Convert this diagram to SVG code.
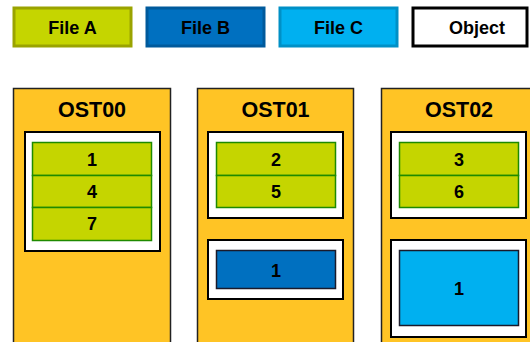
<svg xmlns="http://www.w3.org/2000/svg" width="530" height="342" viewBox="0 0 530 342">
<style>
text{font-family:"Liberation Sans",Arial,sans-serif;font-weight:bold;fill:#000;text-anchor:middle}
.leg{font-size:18px}
.title{font-size:21.5px}
.num{font-size:18px}
.ost{fill:#FFC425;stroke:#222;stroke-width:1.5}
.obj{fill:#fff;stroke:#000;stroke-width:2}
.fa{fill:#C5D500;stroke:#1E8A00;stroke-width:1.5}
.fb{fill:#0070C0;stroke:#1A1A2A;stroke-width:1.5}
.fc{fill:#00B0F0;stroke:#1A1A2A;stroke-width:1.5}
</style>
<g id="legend">
<g id="legend-a"><rect x="14" y="8" width="117" height="38" fill="#C5D500" stroke="#9AA300" stroke-width="3"/><text class="leg" x="72.5" y="34">File A</text></g>
<g id="legend-b"><rect x="147" y="8" width="117" height="38" fill="#0070C0" stroke="#005A9C" stroke-width="3"/><text class="leg" x="205.5" y="34">File B</text></g>
<g id="legend-c"><rect x="280" y="8" width="117" height="38" fill="#00B0F0" stroke="#0090C6" stroke-width="3"/><text class="leg" x="338.5" y="34">File C</text></g>
<g id="legend-obj"><rect x="413" y="8" width="114" height="38" fill="#fff" stroke="#000" stroke-width="3"/><text class="leg" x="477" y="34">Object</text></g>
</g>
<g id="ost00">
<rect class="ost" x="13.5" y="88.5" width="157" height="262"/>
<text class="title" x="92" y="116.5">OST00</text>
<rect class="obj" x="25" y="132" width="135" height="119"/>
<rect class="fa" x="32.5" y="142.5" width="119" height="33"/><text class="num" x="92" y="166">1</text>
<rect class="fa" x="32.5" y="175.5" width="119" height="32"/><text class="num" x="92" y="197.5">4</text>
<rect class="fa" x="32.5" y="207.5" width="119" height="33"/><text class="num" x="92" y="230">7</text>
</g>
<g id="ost01">
<rect class="ost" x="197.5" y="88.5" width="156" height="262"/>
<text class="title" x="275.5" y="116.5">OST01</text>
<rect class="obj" x="208" y="132" width="135" height="86"/>
<rect class="fa" x="216.5" y="142.5" width="119" height="33"/><text class="num" x="276" y="166">2</text>
<rect class="fa" x="216.5" y="175.5" width="119" height="32"/><text class="num" x="276" y="197.5">5</text>
<rect class="obj" x="208" y="240" width="135" height="59"/>
<rect class="fb" x="216.5" y="250.5" width="119" height="38"/><text class="num" x="276" y="277">1</text>
</g>
<g id="ost02">
<rect class="ost" x="381.5" y="88.5" width="160" height="262"/>
<text class="title" x="459" y="116.5">OST02</text>
<rect class="obj" x="391" y="132" width="135" height="86"/>
<rect class="fa" x="399.5" y="142.5" width="119" height="33"/><text class="num" x="459" y="166">3</text>
<rect class="fa" x="399.5" y="175.5" width="119" height="32"/><text class="num" x="459" y="197.5">6</text>
<rect class="obj" x="391" y="240" width="135" height="97"/>
<rect class="fc" x="399.5" y="250.5" width="119" height="75"/><text class="num" x="459" y="295">1</text>
</g>
<g id="connectors"/>
</svg>
